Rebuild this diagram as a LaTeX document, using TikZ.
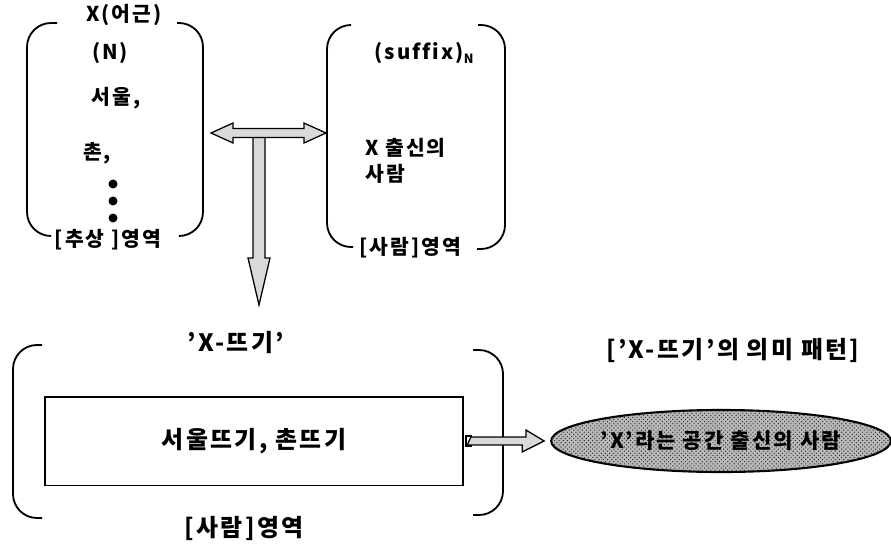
\documentclass[tikz,border=0pt]{standalone}
\usepackage{fontspec}
\setmainfont{Noto Sans CJK KR}[LetterSpace=10,Ligatures=CommonOff]
\usetikzlibrary{shapes.geometric,patterns,calc}

\begin{document}
\begin{tikzpicture}[x=0.025cm,y=-0.025cm,
	every node/.append style={inner sep=0pt},
	bracket/.style={line width=1.3pt,rounded corners=0.6cm},
	fatarrow/.style={draw=black,line width=0.9pt,fill=gray!30,line join=miter},
	small/.style={font=\fontsize{14.5}{17}\selectfont\bfseries},
	big/.style={font=\fontsize{17}{20}\selectfont\bfseries}]
	\useasboundingbox (0,0) rectangle (891,544);
	% root side
	\draw [bracket] (57,23) -| (27,236) -- (50,236);
	\draw [bracket] (177,23) -| (203,236) -- (180,236);
	\node [small] (root) at (124,15) {X(어근)};
	\node [small] (npos) at (110,53) {(N)};
	\node [small] (seoul) at (116,98) {서울,};
	\node [small] (chon) at (97,153) {촌,};
	\foreach \y in {184,201,218}
		\fill (113,\y) circle (4.5);
	\node [small] (abstr) at (108,240) {[추상 ]영역};
	% suffix side
	\draw [bracket] (350,25) -| (327,247) -- (353,247);
	\draw [bracket] (478,25) -| (505,249) -- (477,249);
	\node [small] (suffix) at (424,53) {(suffix)\raisebox{-0.35ex}{\fontsize{9}{10}\selectfont N}};
	\node [small,anchor=west] (born) at (365,148) {X 출신의};
	\node [small,anchor=west] (person) at (365,174) {사람};
	\node [small] (prsreg) at (410,248) {[사람]영역};
	% arrows between the two sides
	\coordinate (hl) at (211,133);
	\coordinate (hr) at (326,133);
	\coordinate (vtop) at (259,137.5);
	\coordinate (vtip) at (259,305);
	\filldraw [fatarrow] (vtop) ++(-6,0) -- ++(0,120.5) -- ++(-5,0) -- (vtip) -- ++(11,-47) -- ++(-5,0) -- ++(0,-120.5);
	\filldraw [fatarrow] (hl) -- ++(22,-10) -- ++(0,5.5) -- ++(71,0) -- ++(0,-5.5) -- (hr)
		-- ++(-22,10) -- ++(0,-5.5) -- ++(-71,0) -- ++(0,5.5) -- cycle;
	% derived word
	\draw [bracket] (42,345) -| (13,518) -- (42,518);
	\draw [bracket] (473,350) -| (503,515) -- (473,515);
	\node [big] (word) at (236,343) {'X-뜨기'};
	\node [draw,line width=1.3pt,minimum width=10.45cm,minimum height=2.22cm,big] (box) at (254,441) {서울뜨기, 촌뜨기};
	\node [big] (wordreg) at (244,528) {[사람]영역};
	% meaning pattern
	\node [big] (title) at (733,350) {['X-뜨기'의 의미 패턴]};
	\node [ellipse,draw,line width=1.5pt,fill=gray!55,
		postaction={pattern=crosshatch dots,pattern color=gray!40!black},
		minimum width=8.3cm,minimum height=1.55cm,
		font=\fontsize{15}{17}\selectfont\bfseries] (mean) at (721,441) {'X'라는 공간 출신의 사람};
	\draw [line width=1pt] ($(box.east)+(2,-5)$) rectangle ($(box.east)+(7,5)$);
	\filldraw [fatarrow] (box.east) ++(7,-4) -- ++(55,0) -- ++(0,-7) -- ($(mean.west)+(-6,0)$) -- ++(-22,11) -- ++(0,-7) -- ++(-55,0) -- cycle;
\end{tikzpicture}
\end{document}
